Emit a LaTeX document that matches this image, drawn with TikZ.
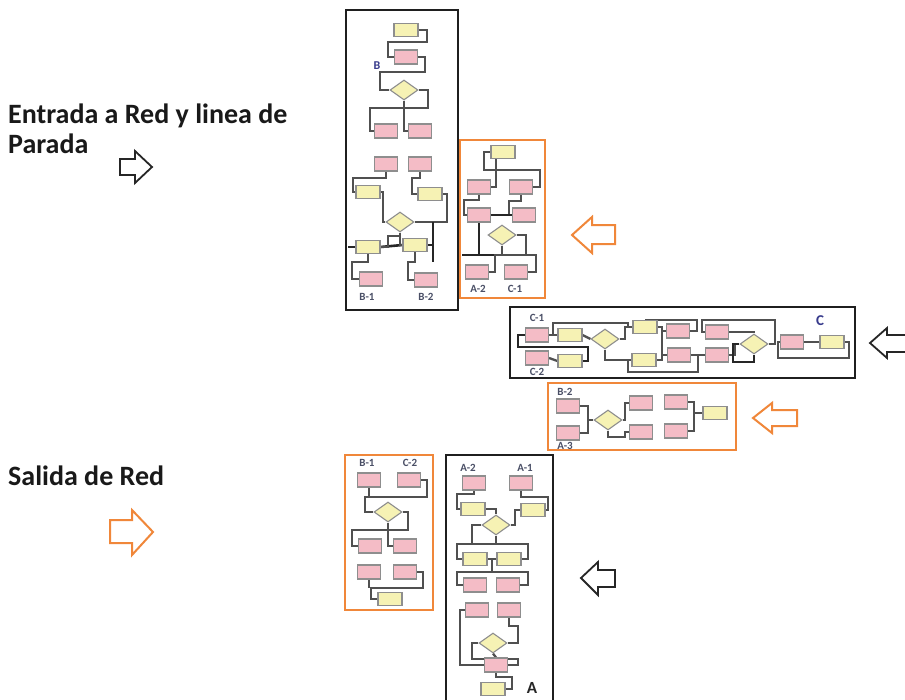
\documentclass[tikz,border=0pt]{standalone}
\usepackage{fontspec}
\setmainfont{Carlito}
\usetikzlibrary{shapes.geometric}
\definecolor{pkfill}{HTML}{F4BCC6}
\definecolor{ylfill}{HTML}{F6F2B4}
\definecolor{orng}{HTML}{F0873A}
\definecolor{lnc}{HTML}{505050}
\definecolor{lblc}{HTML}{4A4F66}
\definecolor{boxedge}{HTML}{8E8E8E}
\pgfdeclarelayer{bglayer}
\pgfdeclarelayer{linelayer}
\pgfsetlayers{bglayer,linelayer,main}
\tikzset{
  pinkbox/.style={draw=boxedge, fill=pkfill, minimum width=23pt, minimum height=14pt, inner sep=0pt, line width=1.1pt},
  yelbox/.style={draw=boxedge, fill=ylfill, minimum width=24pt, minimum height=13pt, inner sep=0pt, line width=1.1pt},
  dia/.style={diamond, draw=boxedge, fill=ylfill, minimum width=28pt, minimum height=20pt, inner sep=0pt, line width=1.1pt},
  conn/.style={draw=lnc, line width=2.3pt},
  heavy/.style={draw=black!85, line width=2.6pt},
  frameK/.style={draw=black!88, line width=2.2pt},
  frameO/.style={draw=orng, line width=2.2pt},
  lbl/.style={font=\bfseries\fontsize{11}{11}\selectfont, text=lblc, inner sep=0pt},
  bigtxt/.style={font=\bfseries\fontsize{28}{30}\selectfont, text=black!90, inner sep=0pt, anchor=base west},
  barrK/.style={draw=black!85, line width=1.8pt, line join=miter},
  barrO/.style={draw=orng, line width=2pt, line join=miter}
}
\begin{document}
\begin{tikzpicture}[x=1pt,y=-1pt]
\begin{pgfonlayer}{bglayer}
\fill[white] (0,0) rectangle (905,699);
\end{pgfonlayer}
\useasboundingbox (0,0) rectangle (905,699);

% ---------- texts ----------
\node[bigtxt] (t1) at (8,123) {Entrada a Red y linea de};
\node[bigtxt] (t2) at (8,153) {Parada};
\node[bigtxt] (t3) at (8,485) {Salida de Red};

% ---------- block arrows ----------
\draw[barrK] (120,159) -- (135,159) -- (135,151) -- (152,167) -- (135,183) -- (135,175) -- (120,175) -- cycle;
\draw[barrO] (110,520) -- (132,520) -- (132,510) -- (153,532) -- (132,555) -- (132,543) -- (110,543) -- cycle;
\draw[barrO] (615,225) -- (592,225) -- (592,217) -- (572,235) -- (592,253) -- (592,244) -- (615,244) -- cycle;
\draw[barrK] (912,335) -- (887,335) -- (887,328) -- (870,343) -- (887,358) -- (887,352) -- (912,352);
\draw[barrO] (797,410) -- (772,410) -- (772,403) -- (753,418) -- (772,433) -- (772,426) -- (797,426) -- cycle;
\draw[barrK] (615,570) -- (598,570) -- (598,562) -- (581,578) -- (598,595) -- (598,587) -- (615,587) -- cycle;

% ---------- frames ----------
\draw[frameK] (346,10) rectangle (458,310);
\draw[frameO] (460,140) rectangle (545,298);
\draw[frameK] (510,307) rectangle (855,378);
\draw[frameO] (548,383) rectangle (736,450);
\draw[frameO] (345,455) rectangle (433,610);
\draw[frameK] (446,705) -- (446,455) -- (553,455) -- (553,705);

% ---------- box B ----------
\node[yelbox] (bY1) at (406,30) {};
\node[pinkbox] (bP1) at (406,57) {};
\node[dia] (bD1) at (404,90) {};
\node[pinkbox] (bP2) at (386,131) {};
\node[pinkbox] (bP3) at (420,131) {};
\node[pinkbox] (bP4) at (386,164) {};
\node[pinkbox] (bP5) at (420,164) {};
\node[yelbox] (bY2) at (368,192) {};
\node[yelbox] (bY3) at (430,194) {};
\node[dia] (bD2) at (400,222) {};
\node[yelbox] (bY4) at (368,247) {};
\node[yelbox] (bY5) at (415,245) {};
\node[pinkbox] (bP6) at (371,279) {};
\node[pinkbox] (bP7) at (426,280) {};
\node[lbl, font=\bfseries\fontsize{12}{12}\selectfont, text=lblc!75!blue] (lB) at (377,66) {B};
\node[lbl] (lB1) at (367,297) {B-1};
\node[lbl] (lB2) at (426,297) {B-2};

% ---------- box A-2 / C-1 ----------
\node[yelbox] (aY1) at (503,152) {};
\node[pinkbox] (aP1) at (479,187) {};
\node[pinkbox] (aP2) at (521,187) {};
\node[pinkbox] (aP3) at (479,215) {};
\node[pinkbox] (aP4) at (524,215) {};
\node[dia] (aD) at (502,235) {};
\node[pinkbox] (aP5) at (477,272) {};
\node[pinkbox] (aP6) at (516,272) {};
\node[lbl] (lA2a) at (478,289) {A-2};
\node[lbl] (lC1a) at (515,289) {C-1};

% ---------- box C ----------
\node[pinkbox] (cP1) at (537,335) {};
\node[pinkbox] (cP2) at (537,358) {};
\node[yelbox] (cY1) at (570,335) {};
\node[yelbox] (cY2) at (570,361) {};
\node[dia] (cD1) at (605,339) {};
\node[yelbox] (cY3) at (645,327) {};
\node[yelbox] (cY4) at (644,360) {};
\node[pinkbox] (cP3) at (678,331) {};
\node[pinkbox] (cP4) at (679,355) {};
\node[pinkbox] (cP5) at (717,332) {};
\node[pinkbox] (cP6) at (717,355) {};
\node[dia] (cD2) at (754,344) {};
\node[pinkbox] (cP7) at (792,342) {};
\node[yelbox] (cY5) at (832,342) {};
\node[lbl] (lC1) at (537,318) {C-1};
\node[lbl] (lC2) at (537,372) {C-2};
\node[lbl, font=\bfseries\fontsize{15}{15}\selectfont, text=lblc!75!blue] (lC) at (820,321) {C};

% ---------- box B-2 / A-3 ----------
\node[pinkbox] (dP1) at (568,406) {};
\node[pinkbox] (dP2) at (568,433) {};
\node[dia] (dD) at (608,420) {};
\node[pinkbox] (dP3) at (641,403) {};
\node[pinkbox] (dP4) at (641,432) {};
\node[pinkbox] (dP5) at (676,402) {};
\node[pinkbox] (dP6) at (676,431) {};
\node[yelbox] (dY) at (715,413) {};
\node[lbl] (lB2d) at (565,392) {B-2};
\node[lbl] (lA3d) at (565,446) {A-3};

% ---------- box B-1 / C-2 ----------
\node[pinkbox] (eP1) at (369,480) {};
\node[pinkbox] (eP2) at (409,480) {};
\node[dia] (eD) at (388,512) {};
\node[pinkbox] (eP3) at (370,546) {};
\node[pinkbox] (eP4) at (405,546) {};
\node[pinkbox] (eP5) at (369,572) {};
\node[pinkbox] (eP6) at (405,572) {};
\node[yelbox] (eY) at (390,599) {};
\node[lbl] (lB1e) at (367,463) {B-1};
\node[lbl] (lC2e) at (410,463) {C-2};

% ---------- box A ----------
\node[pinkbox] (fP1) at (474,483) {};
\node[pinkbox] (fP2) at (521,483) {};
\node[yelbox] (fY1) at (473,509) {};
\node[yelbox] (fY2) at (533,510) {};
\node[dia] (fD1) at (496,525) {};
\node[yelbox] (fY3) at (475,559) {};
\node[yelbox] (fY4) at (509,559) {};
\node[pinkbox] (fP3) at (475,585) {};
\node[pinkbox] (fP4) at (508,585) {};
\node[pinkbox] (fP5) at (477,610) {};
\node[pinkbox] (fP6) at (509,610) {};
\node[dia] (fD2) at (493,643) {};
\node[pinkbox] (fP7) at (496,665) {};
\node[yelbox] (fY5) at (493,689) {};
\node[lbl] (lA2f) at (468,468) {A-2};
\node[lbl] (lA1f) at (525,468) {A-1};
\node[lbl, font=\bfseries\fontsize{17}{17}\selectfont, text=black!85] (lA) at (532,688) {A};

% ---------- connectors ----------
\begin{pgfonlayer}{linelayer}
% B
\draw[conn] (bY1.east) -- (427,30) -- (427,42) -- (388,42) |- (bP1.west);
\draw[conn] (bP1.east) -- (425,57) -- (425,72) -- (380,72) |- (bD1.west);
\draw[conn] (bD1.south) -- (404,108);
\draw[conn] (bD1.east) -| (428,108) -- (370,108) |- (bP2.west);
\draw[conn] (bD1.south) |- (bP3.west);
\draw[conn] (bP4.south) |- (353,178) |- (bY2.west);
\draw[conn] (bP5.south) |- (412,178) |- (bY3.west);
\draw[conn] (bY2.east) -- (383,192) -- (383,222) -- (bD2.west);
\draw[conn] (bY3.east) -- (447,194) |- (bD2.east);
\draw[heavy] (bY4.west) -- (348,247);
\draw[heavy] (bY4.east) -- (bY5.west);
\draw[heavy] (bY5.east) -- (433,245) -- (433,222);
\draw[heavy] (bY5.east) -| (433,262);
\draw[conn] (bD2.south) |- (bY5.west);
\draw[conn] (bD2.south) -- (400,236) -- (388,236) |- (bY4.east);
\draw[conn] (bY4.south) |- (352,262) |- (bP6.west);
\draw[conn] (bY5.south) |- (408,262) |- (bP7.west);
% A-2 / C-1
\draw[conn] (aY1.west) -- (484,152) -- (484,170) -- (540,170) |- (aP2.east);
\draw[conn] (aY1.west) -| (496,170) |- (aP1.east);
\draw[conn] (aP1.south) |- (464,200) |- (aP3.west);
\draw[conn] (aP2.south) |- (509,201) |- (aP4.west);
\draw[heavy] (aP3.east) -- (aP4.west);
\draw[heavy] (aP3.south) -- (479,255);
\draw[conn] (aD.east) -| (526,255);
\draw[conn] (aD.south) -- (502,255);
\draw[heavy] (462,255) -- (536,255);
\draw[conn] (aD.south) |- (536,255) |- (aP6.east);
\draw[conn] (aD.south) |- (495,255) |- (aP5.east);
% C
\draw[conn] (cP1.east) -- (cY1.west);
\draw[conn] (cP2.east) -- (cY2.west);
\draw[conn] (cY1.east) -- (cD1.west);
\draw[conn] (cP1.east) -- (553,335) |- (628,323) |- (cY3.west);
\draw[conn] (cD1.east) -- (625,339) |- (cY3.west);
\draw[conn] (cD1.south) |- (cY4.west);
\draw[heavy] (cY2.east) -- (588,361) -- (588,347) -- (518,347) -- (518,335) -- (cP1.west);
\draw[conn] (cP4.east) -- (698,355) |- (628,372) |- (cY4.west);
\draw[conn] (cP3.east) -- (697,331) |- (cY3.north);
\draw[conn] (cY3.east) -| (662,360) -- (cY4.east);
\draw[conn] (cY3.east) -| (662,331) -- (cP3.west);
\draw[conn] (cY4.east) -| (662,355) -- (cP4.west);
\draw[conn] (cP4.east) -- (cP6.west);
\draw[conn] (cD2.east) -- (775,344) |- (702,320) |- (cP5.west);
\draw[conn] (cP5.east) -| (cD2.north);
\draw[conn] (cP6.east) -| (735,344) -- (cD2.west);
\draw[heavy] (cD2.west) -| (733,362) -| (cD2.south);
\draw[conn] (cY5.east) -- (849,342) |- (778,358) |- (cP7.west);
\draw[conn] (cP7.east) -- (cY5.west);
% B-2 / A-3
\draw[conn] (dP1.east) -| (588,420) -- (dD.west);
\draw[conn] (dP2.east) -| (588,420) -- (dD.west);
\draw[conn] (dD.east) -| (625,403) -- (dP3.west);
\draw[conn] (dD.south) |- (625,437) |- (dP4.west);
\draw[conn] (dP5.east) -| (694,413) -- (dY.west);
\draw[conn] (dP6.east) -| (694,413) -- (dY.west);
% B-1 / C-2
\draw[conn] (eP2.east) -- (427,480) -- (427,497) -- (365,497) |- (eD.west);
\draw[conn] (eP1.south) -- (369,497);
\draw[conn] (eD.east) -| (408,530) -- (352,530) |- (eP3.west);
\draw[conn] (eD.south) |- (eP4.west);
\draw[conn] (eP6.east) -- (423,572) -- (423,588) -- (371,588) |- (eY.west);
\draw[conn] (eP5.south) -- (369,588);
% A
\draw[conn] (fP1.south) |- (457,494) |- (fY1.west);
\draw[conn] (fP2.south) |- (548,497) |- (fY2.east);
\draw[conn] (fY2.west) -- (515,510) |- (fD1.east);
\draw[conn] (fY1.east) -| (fD1.north);
\draw[conn] (fD1.south) -- (496,544);
\draw[conn] (fD1.west) -- (472,525) -- (472,544);
\draw[conn] (fY3.west) -| (457,544) -- (528,544) |- (fY4.east);
\draw[conn] (fY3.east) -- (fY4.west);
\draw[conn] (fY3.east) -| (492,572);
\draw[conn] (fP3.west) -| (457,572) -- (528,572) |- (fP4.east);
\draw[conn] (fP5.west) -- (460,610) |- (fP7.west);
\draw[conn] (fP6.south) |- (518,626) |- (fD2.east);
\draw[conn] (fD2.west) -- (472,643) -- (472,659) -- (518,659) |- (fP7.east);
\draw[conn] (fD2.south) -- (fP7.north);
\draw[conn] (fP7.south) |- (512,677) |- (fY5.east);
\end{pgfonlayer}
\end{tikzpicture}
\end{document}
